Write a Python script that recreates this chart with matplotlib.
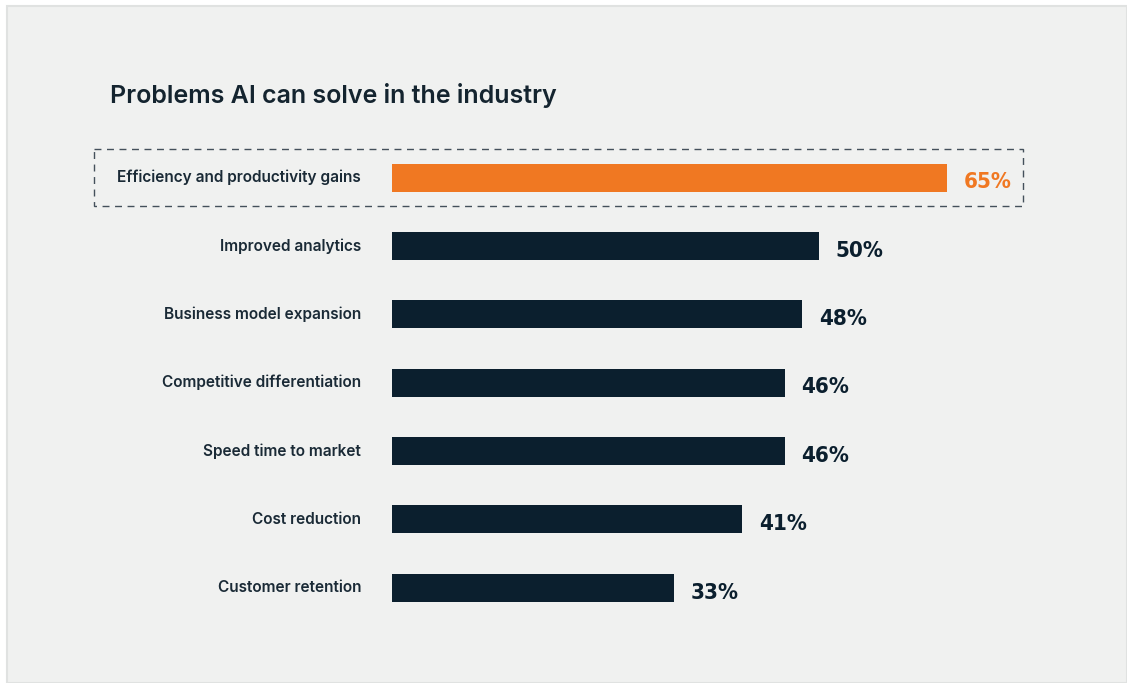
import os
import matplotlib.pyplot as plt
from matplotlib.patches import Rectangle
from matplotlib import font_manager
from matplotlib.font_manager import FontProperties

# data
labels = ['Efficiency and productivity gains', 'Improved analytics', 'Business model expansion',
          'Competitive differentiation', 'Speed time to market', 'Cost reduction', 'Customer retention']
values = [65, 50, 48, 46, 46, 41, 33]
highlight = 0

navy = '#0b1f2e'
orange = '#f07822'
bg = '#f0f1f0'


def pick_narrow():
    # narrowest bold face that is installed, for the percent labels
    files = [f.fname for f in font_manager.fontManager.ttflist]
    prefs = ['LiberationSansNarrow-Bold', 'DejaVuSansCondensed-Bold']
    for p in prefs:
        for f in files:
            if os.path.basename(f).startswith(p + '.'):
                return FontProperties(fname=f)
    return FontProperties(family='DejaVu Sans', weight='bold')


num_font = pick_narrow()

W, H = 1127, 683
fig = plt.figure(figsize=(W / 100, H / 100), dpi=100)
fig.patch.set_facecolor('white')

# grey panel
fig.patches.append(Rectangle((7 / W, 0), 1 - 7 / W, 1 - 6 / H, transform=fig.transFigure,
                             facecolor=bg, edgecolor='#e0e2e1', linewidth=1.5, zorder=-5))

fig.text(110 / W, 1 - 95 / H, 'Problems AI can solve in the industry', fontsize=18, fontweight='semibold',
         family='Inter', color='#14242f', va='center', ha='left')

# axes: x pixel 392 -> 1126, rows 0..6 centred at 177.5 .. 588
px = 8.535
ax = fig.add_axes([392 / W, 1 - 622 / H, (W - 392) / W, (622 - 143.4) / H])
ax.set_xlim(0, (W - 392) / px)
ax.set_ylim(6.5, -0.5)
ax.axis('off')

ys = list(range(len(values)))
colors = [orange if i == highlight else navy for i in ys]
ax.barh(ys, values, height=0.41, color=colors)

for i, (lab, v) in enumerate(zip(labels, values)):
    ax.text(-31 / px, i, lab, ha='right', va='center', fontsize=11.1, fontweight='semibold',
            family='Inter', color='#1a2a36', clip_on=False)
    ax.text(v + 17 / px, i + 0.07, f'{v}%', ha='left', va='center', fontproperties=num_font,
            fontsize=16, color=colors[i], clip_on=False)

# dashed highlight box
ax.add_patch(Rectangle((-298 / px, highlight - 0.42), (1023 - 94) / px, 0.84, fill=False,
                       edgecolor='#44505b', linestyle=(0, (5, 4)), linewidth=1, clip_on=False))

fig.savefig('out.png', dpi=100, facecolor=fig.get_facecolor())
